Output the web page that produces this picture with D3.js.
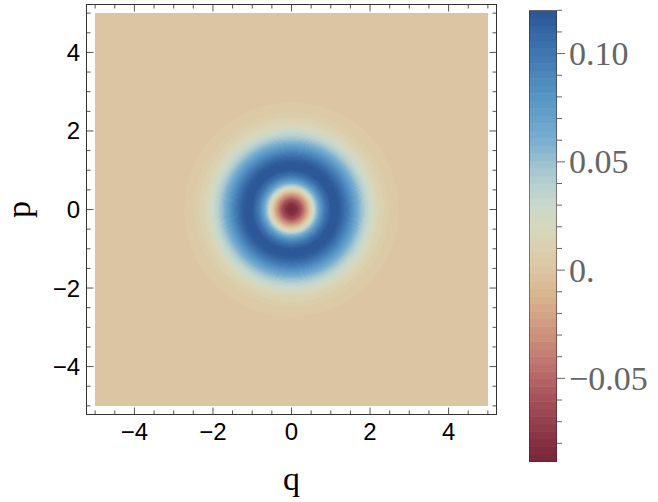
<!DOCTYPE html>
<html>
<head>
<meta charset="utf-8">
<script src="https://cdn.jsdelivr.net/npm/d3@7"></script>
<style>
  body { margin: 0; background: #fff; }
  svg { display: block; }
</style>
</head>
<body>
<svg id="chart" width="658" height="502"></svg>
<script>
// radial profile of W(q,p) (radius, value)
var radii  = [0, 0.125, 0.25, 0.375, 0.5, 0.625, 0.75, 0.875, 1.0, 1.125, 1.25, 1.375, 1.5, 1.625, 1.75, 1.875, 2.0, 2.125, 2.25, 2.375, 2.5, 2.75, 3.0, 3.5, 4.0, 8.0];
var values = [-0.0879, -0.0802, -0.0587, -0.0267, 0.0107, 0.0479, 0.0801, 0.1037, 0.1171, 0.1202, 0.1146, 0.1027, 0.0871, 0.0702, 0.0541, 0.0398, 0.0282, 0.0191, 0.0125, 0.0078, 0.0047, 0.0016, 0.0004, 0.00002, 0, 0];

// colour bar stops (value -> colour), sampled from the legend
var stopValues = [-0.0884, -0.08, -0.07, -0.06, -0.05, -0.04, -0.03, -0.02, -0.01, 0, 0.01, 0.02, 0.03, 0.04, 0.05, 0.06, 0.08, 0.10, 0.1199];
var stopColors = ["#782839", "#852f42", "#943f4d", "#a4505a", "#b56566", "#c27c72", "#cc917c", "#d4a486", "#d9b792", "#dcc5a2", "#dbd0ae", "#d6d8bd", "#c9d9cc", "#b6cfd0", "#9cc0cf", "#78aed0", "#5795c4", "#3f77b0", "#2b5596"];

var axisTicks = [-4, -2, 0, 2, 4];
var barTicks = [-0.05, 0, 0.05, 0.10];
var barTickLabels = ["\u22120.05", "0.", "0.05", "0.10"];

var svg = d3.select("#chart");

var x = d3.scaleLinear().domain([-5.22, 5.22]).range([86.5, 496.5]);
var y = d3.scaleLinear().domain([-5.22, 5.22]).range([414.5, 4.5]);

var vMin = stopValues[0], vMax = stopValues[stopValues.length - 1];
var profile = d3.scaleLinear().domain(radii).range(values).clamp(true);
var color = d3.scaleLinear().domain(stopValues).range(stopColors).interpolate(d3.interpolateRgb).clamp(true);

var nBands = 60, bandStep = (vMax - vMin) / nBands;
function band(v) {
  var k = Math.min(nBands - 1, Math.max(0, Math.floor((v - vMin) / bandStep)));
  return vMin + (k + 0.5) * bandStep;
}

// density image
var x0 = Math.round(x(-5)), x1 = Math.round(x(5)),
    y0 = Math.round(y(5)), y1 = Math.round(y(-5));
var w = x1 - x0, h = y1 - y0;
var canvas = document.createElement("canvas");
canvas.width = w; canvas.height = h;
var ctx = canvas.getContext("2d");
var img = ctx.createImageData(w, h);
for (var j = 0; j < h; j++) {
  for (var i = 0; i < w; i++) {
    var q = x.invert(x0 + i + 0.5), p = y.invert(y0 + j + 0.5);
    var c = d3.rgb(color(band(profile(Math.sqrt(q * q + p * p)))));
    var o = (j * w + i) * 4;
    img.data[o] = c.r; img.data[o + 1] = c.g; img.data[o + 2] = c.b; img.data[o + 3] = 255;
  }
}
ctx.putImageData(img, 0, 0);

svg.append("image")
  .attr("x", x0).attr("y", y0)
  .attr("width", w).attr("height", h)
  .attr("href", canvas.toDataURL());

// frame + ticks on all sides
var minor = d3.range(-5, 5.01, 0.5).filter(d => axisTicks.indexOf(d) < 0);
var g = svg.append("g").attr("stroke", "#555").attr("stroke-width", 1);
axisTicks.forEach(function(t) {
  g.append("line").attr("x1", x(t)).attr("x2", x(t)).attr("y1", 414.5).attr("y2", 407.5);
  g.append("line").attr("x1", x(t)).attr("x2", x(t)).attr("y1", 4.5).attr("y2", 11.5);
  g.append("line").attr("y1", y(t)).attr("y2", y(t)).attr("x1", 86.5).attr("x2", 93.5);
  g.append("line").attr("y1", y(t)).attr("y2", y(t)).attr("x1", 496.5).attr("x2", 489.5);
});
minor.forEach(function(t) {
  g.append("line").attr("x1", x(t)).attr("x2", x(t)).attr("y1", 414.5).attr("y2", 410.5);
  g.append("line").attr("x1", x(t)).attr("x2", x(t)).attr("y1", 4.5).attr("y2", 8.5);
  g.append("line").attr("y1", y(t)).attr("y2", y(t)).attr("x1", 86.5).attr("x2", 90.5);
  g.append("line").attr("y1", y(t)).attr("y2", y(t)).attr("x1", 496.5).attr("x2", 492.5);
});
svg.append("rect")
  .attr("x", 86.5).attr("y", 4.5)
  .attr("width", 410).attr("height", 410)
  .attr("fill", "none").attr("stroke", "#333");

var sans = "'Liberation Sans', Arial, sans-serif";
var serif = "'Liberation Serif', 'Times New Roman', serif";

svg.selectAll(".xl").data(axisTicks).enter().append("text")
  .attr("x", d => x(d)).attr("y", 440)
  .attr("text-anchor", "middle")
  .style("font-family", sans).style("font-size", "24px")
  .text(d => d < 0 ? "\u2212" + Math.abs(d) : d);

svg.selectAll(".yl").data(axisTicks).enter().append("text")
  .attr("x", 80).attr("y", d => y(d) + 8.5)
  .attr("text-anchor", "end")
  .style("font-family", sans).style("font-size", "24px")
  .text(d => d < 0 ? "\u2212" + Math.abs(d) : d);

svg.append("text")
  .attr("x", x(0)).attr("y", 490)
  .attr("text-anchor", "middle")
  .style("font-family", serif).style("font-size", "34px")
  .text("q");

svg.append("text")
  .attr("transform", "translate(30," + y(0) + ") rotate(-90)")
  .attr("text-anchor", "middle")
  .style("font-family", serif).style("font-size", "34px")
  .text("p");

// colour bar
var cb = d3.scaleLinear().domain([vMin, vMax]).range([461.5, 10.5]);
var cbx = 529, cbw = 28;
var bands = d3.range(nBands).map(k => vMin + k * bandStep);
svg.selectAll(".band").data(bands).enter().append("rect")
  .attr("x", cbx).attr("width", cbw)
  .attr("y", d => cb(d + bandStep))
  .attr("height", d => cb(d) - cb(d + bandStep) + 0.5)
  .attr("fill", d => color(d + bandStep / 2));
svg.append("rect")
  .attr("x", cbx + 0.5).attr("y", 10.5)
  .attr("width", cbw - 1).attr("height", 451)
  .attr("fill", "none").attr("stroke", "rgba(60,40,40,0.55)");

var cbMinor = d3.range(-8, 12.01, 1).map(d => d / 100).filter(d => barTicks.every(t => Math.abs(t - d) > 1e-9));
svg.selectAll(".cbm").data(cbMinor).enter().append("line")
  .attr("x1", cbx + cbw).attr("x2", cbx + cbw + 5)
  .attr("y1", d => cb(d)).attr("y2", d => cb(d))
  .attr("stroke", "#666");
svg.selectAll(".cbt").data(barTicks).enter().append("line")
  .attr("x1", cbx + cbw).attr("x2", cbx + cbw + 8)
  .attr("y1", d => cb(d)).attr("y2", d => cb(d))
  .attr("stroke", "#666");
svg.selectAll(".cbl").data(barTicks).enter().append("text")
  .attr("x", 569).attr("y", d => cb(d) + 11.5)
  .style("font-family", serif).style("font-size", "34px")
  .attr("fill", "#666")
  .text((d, i) => barTickLabels[i]);
</script>
</body>
</html>
